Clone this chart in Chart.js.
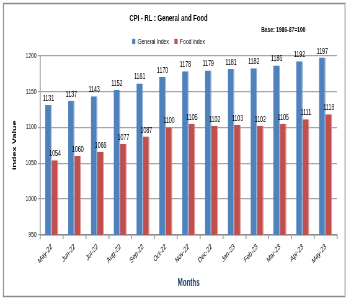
<!DOCTYPE html>
<html>
<head>
<meta charset="utf-8">
<script src="https://cdn.jsdelivr.net/npm/chart.js@4"></script>
<style>
  html, body { margin: 0; padding: 0; background: #fff; overflow: hidden; }
  #wrap { width: 349px; height: 302px; overflow: hidden; }
  /* the source picture is horizontally squeezed, so draw wide and squeeze */
  #inner { width: 563px; height: 302px; transform: scaleX(0.62); transform-origin: 0 0; }
  #cpiChart { display: block; }
</style>
</head>
<body>
<div id="wrap"><div id="inner"><canvas id="cpiChart" width="563" height="302"></canvas></div></div>
<script>
const months = ['May-22', 'Jun-22', 'Jul-22', 'Aug-22', 'Sep-22', 'Oct-22', 'Nov-22', 'Dec-22', 'Jan-23', 'Feb-23', 'Mar-23', 'Apr-23', 'May-23'];
const generalIndex = [1131, 1137, 1143, 1152, 1161, 1170, 1178, 1179, 1181, 1182, 1186, 1192, 1197];
const foodIndex = [1054, 1060, 1066, 1077, 1087, 1100, 1105, 1102, 1103, 1102, 1105, 1111, 1118];
const yTicks = [950, 1000, 1050, 1100, 1150, 1200];

const FONT = "'Liberation Sans', Arial, sans-serif";

// frame, base text and value labels
const extras = {
  id: 'extras',
  afterDraw(chart) {
    const ctx = chart.ctx;
    ctx.save();
    ctx.strokeStyle = '#8c8c8c';
    ctx.lineWidth = 1.5;
    ctx.strokeRect(5.5, 3.5, 551, 293);

    ctx.fillStyle = '#000';
    ctx.font = 'bold 8px ' + FONT;
    ctx.textAlign = 'center';
    ctx.textBaseline = 'middle';
    ctx.fillText('Base: 1986-87=100', 457, 30);

    ctx.font = '8.5px ' + FONT;
    ctx.textBaseline = 'alphabetic';
    chart.data.datasets.forEach((ds, i) => {
      const meta = chart.getDatasetMeta(i);
      meta.data.forEach((bar, j) => {
        ctx.fillText(ds.data[j], bar.x, bar.y - 4);
      });
    });
    ctx.restore();
  }
};

new Chart(document.getElementById('cpiChart'), {
  type: 'bar',
  data: {
    labels: months,
    datasets: [
      {
        label: 'General Index',
        data: generalIndex,
        backgroundColor: '#4F81BD',
        borderColor: '#7ea2cf',
        borderWidth: { right: 1.5 },
        categoryPercentage: 0.57,
        barPercentage: 1
      },
      {
        label: 'Food Index',
        data: foodIndex,
        backgroundColor: '#C0504D',
        borderColor: '#d98c8a',
        borderWidth: { right: 1.5 },
        categoryPercentage: 0.57,
        barPercentage: 1
      }
    ]
  },
  options: {
    responsive: false,
    animation: false,
    layout: { padding: { left: 0, right: 19.5, top: 0, bottom: 0 } },
    plugins: {
      title: {
        display: true,
        text: 'CPI - RL : General and Food',
        color: '#000',
        font: { family: FONT, size: 9.5, weight: 'bold' },
        padding: { top: 13, bottom: 4 }
      },
      legend: {
        display: true,
        labels: {
          boxWidth: 5,
          boxHeight: 5,
          color: '#000',
          font: { family: FONT, size: 8 },
          padding: 9
        }
      },
      tooltip: { enabled: false }
    },
    scales: {
      x: {
        afterFit(scale) { scale.height = 67; },
        grid: { display: true, drawOnChartArea: false, offset: true, tickLength: 4, color: '#8c8c8c', lineWidth: 1.5 },
        border: { color: '#8c8c8c', width: 1.5 },
        ticks: {
          color: '#000',
          font: { family: FONT, size: 8 },
          maxRotation: 38,
          minRotation: 38,
          padding: 3
        },
        title: {
          display: true,
          text: 'Months',
          color: '#1f3d6b',
          font: { family: FONT, size: 10, weight: 'bold' },
          padding: { top: 4, bottom: 13 }
        }
      },
      y: {
        min: 950,
        max: 1200,
        afterFit(scale) { scale.width = 65; },
        afterBuildTicks(axis) {
          axis.ticks = yTicks.map(v => ({ value: v }));
        },
        grid: { color: '#a6a6a6', lineWidth: 1.2, tickLength: 4 },
        border: { color: '#8c8c8c', width: 1.5 },
        ticks: {
          color: '#000',
          font: { family: FONT, size: 8 },
          padding: 2,
          callback: v => String(v)
        },
        title: {
          display: true,
          text: 'Index Value',
          color: '#000',
          font: { family: FONT, size: 9, weight: 'bold' },
          padding: { top: 18, bottom: 0 }
        }
      }
    }
  },
  plugins: [extras]
});
</script>
</body>
</html>
